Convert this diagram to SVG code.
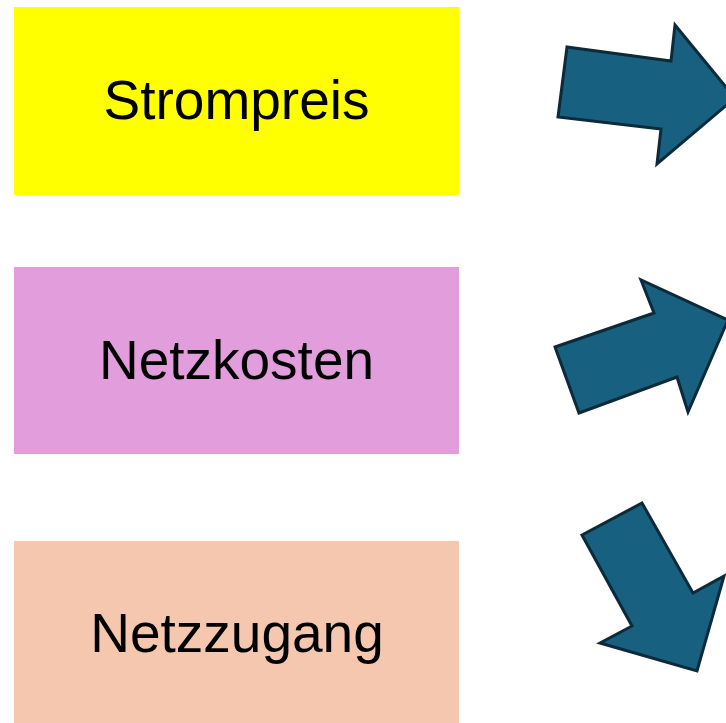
<svg xmlns="http://www.w3.org/2000/svg" width="726" height="723" viewBox="0 0 726 723">
<style>
.lbl{font-family:"Liberation Sans",Arial,sans-serif;font-size:55px;fill:#000;text-anchor:middle}
.arr{fill:#17607f;stroke:#0c2a3a;stroke-width:3;stroke-linejoin:miter}
</style>
<rect width="726" height="723" fill="#fff"/>
<g id="strompreis">
<rect x="14" y="7" width="445" height="188" fill="#ffff00"/>
<text class="lbl" x="236.5" y="119">Strompreis</text>
</g>
<g id="netzkosten">
<rect x="14" y="267" width="445" height="187" fill="#e29edc"/>
<text class="lbl" x="236.5" y="378.5">Netzkosten</text>
</g>
<g id="netzzugang">
<rect x="14" y="541" width="445" height="182" fill="#f5c7ae"/>
<text class="lbl" x="237" y="652">Netzzugang</text>
</g>
<g id="connectors">
<polygon class="arr" points="567,47 671,61 675,25 735,98 657,164 661,129 558,117"/>
<polygon class="arr" points="555,347 654,313 641,280 728,320 688,412 677,377 579,413"/>
<polygon class="arr" points="582,535 642,503 693,593 724,576 697,671 600,643 632,626"/>
</g>
</svg>
